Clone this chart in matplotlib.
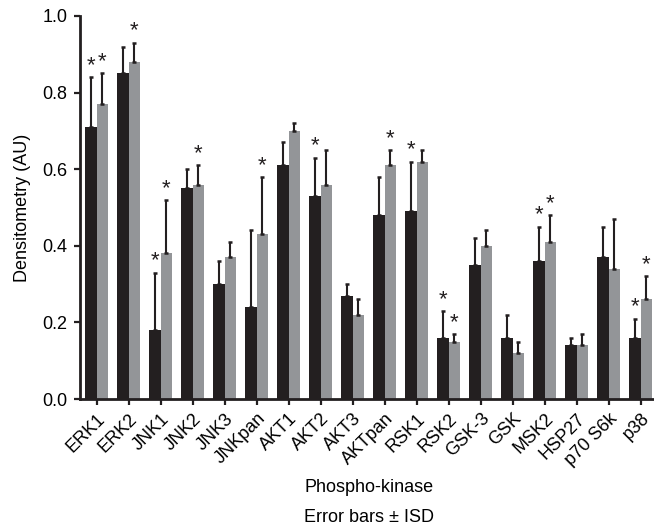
import matplotlib
matplotlib.use("Agg")
import matplotlib.pyplot as plt
import numpy as np

plt.rcParams['font.family'] = ['Liberation Sans', 'DejaVu Sans']

categories = ["ERK1", "ERK2", "JNK1", "JNK2", "JNK3", "JNKpan", "AKT1", "AKT2", "AKT3",
              "AKTpan", "RSK1", "RSK2", "GSK-3", "GSK", "MSK2", "HSP27", "p70 S6k", "p38"]
black_vals = [0.71, 0.85, 0.18, 0.55, 0.30, 0.24, 0.61, 0.53, 0.27, 0.48, 0.49, 0.16, 0.35, 0.16, 0.36, 0.14, 0.37, 0.16]
black_err = [0.13, 0.07, 0.15, 0.05, 0.06, 0.20, 0.06, 0.10, 0.03, 0.10, 0.13, 0.07, 0.07, 0.06, 0.09, 0.02, 0.08, 0.05]
gray_vals = [0.77, 0.88, 0.38, 0.56, 0.37, 0.43, 0.70, 0.56, 0.22, 0.61, 0.62, 0.15, 0.40, 0.12, 0.41, 0.14, 0.34, 0.26]
gray_err = [0.08, 0.05, 0.14, 0.05, 0.04, 0.15, 0.02, 0.09, 0.04, 0.04, 0.03, 0.02, 0.04, 0.03, 0.07, 0.03, 0.13, 0.06]
black_sig = [1, 0, 1, 0, 0, 0, 0, 1, 0, 0, 1, 1, 0, 0, 1, 0, 0, 1]
gray_sig = [1, 1, 1, 1, 0, 1, 0, 0, 0, 1, 0, 1, 0, 0, 1, 0, 0, 1]
yticks = [0.0, 0.2, 0.4, 0.6, 0.8, 1.0]

black_col = '#231f20'
gray_col = '#939598'

fig = plt.figure(figsize=(6.54, 5.30), dpi=100)
ax = fig.add_axes([80/654, 1-399/530, 1-80/654, (399-16)/530])

x = np.arange(len(categories))
w = 0.36
xb = x - w/2
xg = x + w/2
ax.bar(xb, black_vals, width=w, color=black_col, zorder=2)
ax.bar(xg, gray_vals, width=w, color=gray_col, zorder=2)
ax.errorbar(xb, black_vals, yerr=[np.zeros(len(x)), black_err], fmt='none',
            ecolor=black_col, elinewidth=1.5, capsize=1.6, capthick=1.8, zorder=3)
ax.errorbar(xg, gray_vals, yerr=[np.zeros(len(x)), gray_err], fmt='none',
            ecolor=black_col, elinewidth=1.5, capsize=1.6, capthick=1.8, zorder=3)

for i in range(len(x)):
    if black_sig[i]:
        ax.text(xb[i], black_vals[i] + black_err[i] + 0.003, '*', ha='center', va='bottom',
                fontsize=16, color=black_col)
    if gray_sig[i]:
        ax.text(xg[i], gray_vals[i] + gray_err[i] + 0.003, '*', ha='center', va='bottom',
                fontsize=16, color=black_col)

ax.set_xlim(-0.52, 17.42)
ax.set_ylim(0, 1.0)
ax.set_yticks(yticks)
ax.set_yticklabels([f"{v:.1f}" for v in yticks], fontsize=13)
ax.set_xticks(x)
ax.set_xticklabels(categories, rotation=45, ha='right', rotation_mode='anchor', fontsize=13)
ax.tick_params(axis='both', direction='out', length=4, width=1.6, color=black_col)
ax.tick_params(axis='y', pad=5)
ax.tick_params(axis='x', pad=4)
for s in ['top', 'right']:
    ax.spines[s].set_visible(False)
for s in ['left', 'bottom']:
    ax.spines[s].set_linewidth(2)
    ax.spines[s].set_color(black_col)
ax.set_ylabel('Densitometry (AU)', fontsize=13, labelpad=8)

fig.text((303+435)/2/654, 1-488/530, 'Phospho-kinase', ha='center', va='center', fontsize=13)
fig.text((303+435)/2/654, 1-518/530, 'Error bars \u00b1 ISD', ha='center', va='center', fontsize=13)

fig.savefig('out.png', dpi=100)
